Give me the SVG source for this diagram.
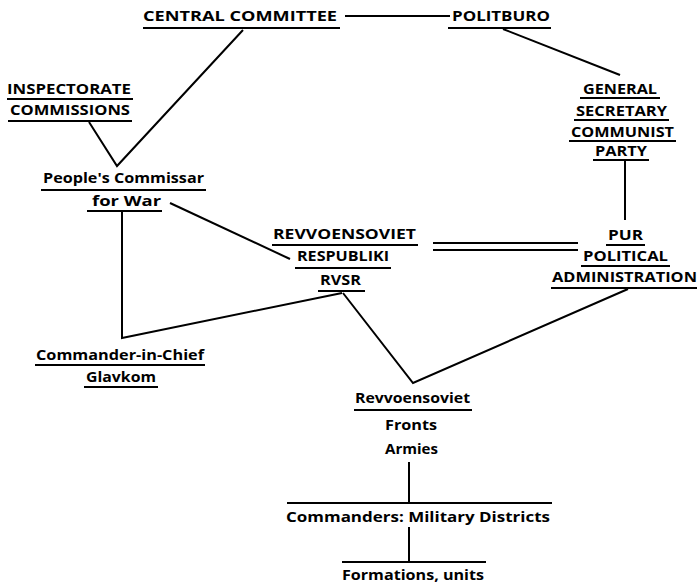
<svg xmlns="http://www.w3.org/2000/svg" width="698" height="583" viewBox="0 0 698 583">
<style>
text{font-family:"Open Sans","Liberation Sans",sans-serif;font-weight:700;font-size:14px;fill:#000}
.u{stroke:#000;stroke-width:1.8;fill:none}
.c{stroke:#000;stroke-width:2;fill:none;stroke-linejoin:miter}
</style>
<rect width="698" height="583" fill="#fff"/>
<g id="connectors">
<line class="c" x1="345" y1="16" x2="450" y2="16"/>
<line class="c" x1="503" y1="29" x2="620" y2="75"/>
<polyline class="c" points="89,122 117,166 243,30"/>
<line class="c" x1="625" y1="160" x2="625" y2="220"/>
<line class="c" x1="170" y1="203" x2="290" y2="259"/>
<polyline class="c" points="122,211 122,338 342,293"/>
<line class="c" x1="433" y1="243" x2="578" y2="243"/>
<line class="c" x1="433" y1="250" x2="578" y2="250"/>
<polyline class="c" points="343,293 413,383 628,289"/>
<line class="c" x1="409" y1="462" x2="409" y2="503"/>
<line class="c" x1="287" y1="503" x2="552" y2="503"/>
<line class="c" x1="409" y1="527" x2="409" y2="562"/>
<line class="c" x1="342" y1="562" x2="486" y2="562"/>
</g>
<g id="central-committee">
<text x="143" y="21" textLength="194" lengthAdjust="spacingAndGlyphs">CENTRAL  COMMITTEE</text>
<line class="u" x1="143" y1="28" x2="340" y2="28"/>
</g>
<g id="politburo">
<text x="452" y="21" textLength="98" lengthAdjust="spacingAndGlyphs">POLITBURO</text>
<line class="u" x1="448" y1="28" x2="551" y2="28"/>
</g>
<g id="general-secretary">
<text x="583" y="94" textLength="74" lengthAdjust="spacingAndGlyphs">GENERAL</text>
<line class="u" x1="580" y1="98" x2="660" y2="98"/>
<text x="576" y="116" textLength="91" lengthAdjust="spacingAndGlyphs">SECRETARY</text>
<line class="u" x1="574" y1="120" x2="669" y2="120"/>
<text x="571" y="137" textLength="103" lengthAdjust="spacingAndGlyphs">COMMUNIST</text>
<line class="u" x1="569" y1="141" x2="676" y2="141"/>
<text x="595" y="156" textLength="52" lengthAdjust="spacingAndGlyphs">PARTY</text>
<line class="u" x1="593" y1="160" x2="649" y2="160"/>
</g>
<g id="inspectorate">
<text x="7" y="94" textLength="124" lengthAdjust="spacingAndGlyphs">INSPECTORATE</text>
<line class="u" x1="7" y1="99" x2="133" y2="99"/>
<text x="10" y="115" textLength="120" lengthAdjust="spacingAndGlyphs">COMMISSIONS</text>
<line class="u" x1="8" y1="121" x2="132" y2="121"/>
</g>
<g id="peoples-commissar">
<text x="43" y="183" textLength="161" lengthAdjust="spacingAndGlyphs">People's  Commissar</text>
<line class="u" x1="41" y1="190" x2="206" y2="190"/>
<text x="92" y="206" textLength="69" lengthAdjust="spacingAndGlyphs">for  War</text>
<line class="u" x1="87" y1="211" x2="162" y2="211"/>
</g>
<g id="revvoensoviet-respubliki">
<text x="273" y="239" textLength="143" lengthAdjust="spacingAndGlyphs">REVVOENSOVIET</text>
<line class="u" x1="272" y1="245" x2="418" y2="245"/>
<text x="297" y="261" textLength="92" lengthAdjust="spacingAndGlyphs">RESPUBLIKI</text>
<line class="u" x1="295" y1="268" x2="391" y2="268"/>
<text x="320" y="285" textLength="41" lengthAdjust="spacingAndGlyphs">RVSR</text>
<line class="u" x1="318" y1="291" x2="365" y2="291"/>
</g>
<g id="pur">
<text x="608" y="240" textLength="35" lengthAdjust="spacingAndGlyphs">PUR</text>
<line class="u" x1="606" y1="245" x2="645" y2="245"/>
<text x="583" y="261" textLength="85" lengthAdjust="spacingAndGlyphs">POLITICAL</text>
<line class="u" x1="581" y1="266" x2="670" y2="266"/>
<text x="552" y="282" textLength="145" lengthAdjust="spacingAndGlyphs">ADMINISTRATION</text>
<line class="u" x1="551" y1="288" x2="697" y2="288"/>
</g>
<g id="commander-in-chief">
<text x="36" y="360" textLength="168" lengthAdjust="spacingAndGlyphs">Commander-in-Chief</text>
<line class="u" x1="35" y1="365" x2="205" y2="365"/>
<text x="86" y="382" textLength="70" lengthAdjust="spacingAndGlyphs">Glavkom</text>
<line class="u" x1="84" y1="387" x2="158" y2="387"/>
</g>
<g id="revvoensoviet-fronts">
<text x="355" y="403" textLength="115" lengthAdjust="spacingAndGlyphs">Revvoensoviet</text>
<line class="u" x1="354" y1="410" x2="472" y2="410"/>
<text x="385" y="430" textLength="52" lengthAdjust="spacingAndGlyphs">Fronts</text>
<text x="385" y="454" textLength="53" lengthAdjust="spacingAndGlyphs">Armies</text>
</g>
<g id="commanders">
<text x="286" y="522" textLength="264" lengthAdjust="spacingAndGlyphs">Commanders:  Military  Districts</text>
</g>
<g id="formations">
<text x="342" y="580" textLength="142" lengthAdjust="spacingAndGlyphs">Formations,  units</text>
</g>
</svg>
